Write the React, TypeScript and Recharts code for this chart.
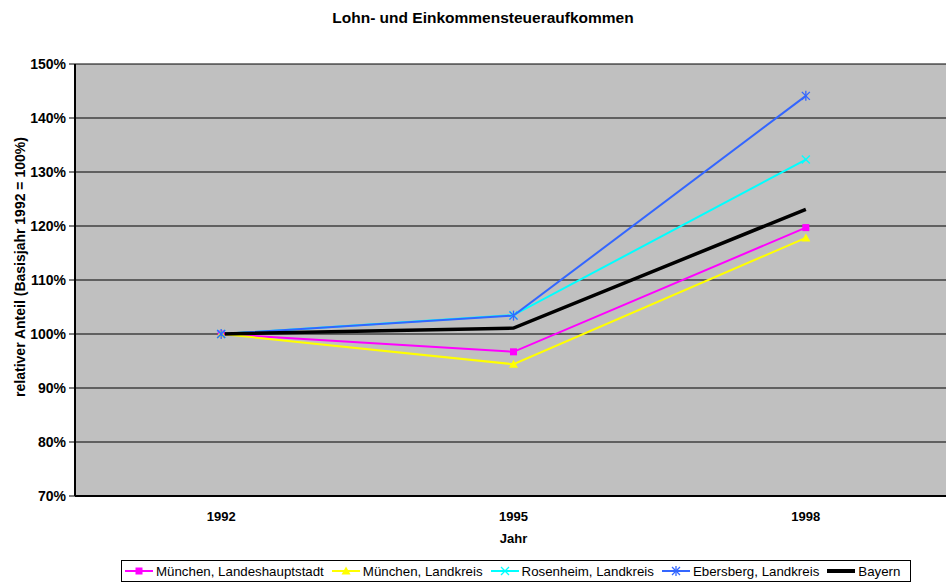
import React from "react";
import { LineChart, Line, XAxis, YAxis, CartesianGrid } from "recharts";

const years = ["1992", "1995", "1998"];
const muenchenStadt = [100, 96.7, 119.7];
const muenchenLand = [100, 94.4, 117.8];
const rosenheim = [100, 103.5, 132.3];
const ebersberg = [100, 103.4, 144.1];
const bayern = [100, 101.1, 123.1];
const yTicks = [70, 80, 90, 100, 110, 120, 130, 140, 150];
const boundaryTicks = [-0.5, 0.5, 1.5, 2.5];
const centerTicks = [0, 1, 2];

const FONT = "'Liberation Sans', Arial, sans-serif";

type Marker = "square" | "triangle" | "cross" | "star" | "none";

const series: { key: string; name: string; color: string; width: number; marker: Marker }[] = [
  { key: "ms", name: "München, Landeshauptstadt", color: "#FF00FF", width: 2, marker: "square" },
  { key: "ml", name: "München, Landkreis", color: "#FFFF00", width: 2, marker: "triangle" },
  { key: "ro", name: "Rosenheim, Landkreis", color: "#00FFFF", width: 2, marker: "cross" },
  { key: "eb", name: "Ebersberg, Landkreis", color: "#3366FF", width: 2, marker: "star" },
  { key: "by", name: "Bayern", color: "#000000", width: 3.5, marker: "none" },
];

const data = years.map((year, i) => ({
  x: i,
  year,
  ms: muenchenStadt[i],
  ml: muenchenLand[i],
  ro: rosenheim[i],
  eb: ebersberg[i],
  by: bayern[i],
}));

// draws one marker shape at (cx, cy)
const markerShape = (marker: Marker, color: string, cx: number, cy: number) => {
  if (marker === "square") {
    return <rect x={cx - 3.5} y={cy - 3.5} width={7} height={7} fill={color} />;
  }
  if (marker === "triangle") {
    return <polygon points={`${cx},${cy - 4.5} ${cx + 4.5},${cy + 3.5} ${cx - 4.5},${cy + 3.5}`} fill={color} />;
  }
  if (marker === "cross" || marker === "star") {
    return (
      <g stroke={color} strokeWidth={1.3}>
        <line x1={cx - 4} y1={cy - 4} x2={cx + 4} y2={cy + 4} />
        <line x1={cx - 4} y1={cy + 4} x2={cx + 4} y2={cy - 4} />
        {marker === "star" && <line x1={cx} y1={cy - 5} x2={cx} y2={cy + 5} />}
      </g>
    );
  }
  return null;
};

const makeDot = (marker: Marker, color: string) => (props: any) => {
  const { cx, cy, index } = props;
  if (cx == null || cy == null) return <g key={index} />;
  return <g key={index}>{markerShape(marker, color, cx, cy)}</g>;
};

const YLabel = (props: any) => {
  const { viewBox } = props;
  const cx = 20;
  const cy = viewBox.y + viewBox.height / 2 - 13;
  return (
    <text
      x={cx}
      y={cy}
      transform={`rotate(-90, ${cx}, ${cy})`}
      textAnchor="middle"
      dominantBaseline="central"
      fontFamily={FONT}
      fontWeight="bold"
      fontSize={14}
      fill="#000"
    >
      relativer Anteil (Basisjahr 1992 = 100%)
    </text>
  );
};

const XLabel = (props: any) => {
  const { viewBox } = props;
  return (
    <text
      x={viewBox.x + viewBox.width / 2}
      y={543}
      textAnchor="middle"
      fontFamily={FONT}
      fontWeight="bold"
      fontSize={13}
      fill="#000"
    >
      Jahr
    </text>
  );
};

const LegendBox = () => (
  <div
    style={{
      position: "absolute",
      left: 121,
      top: 560,
      width: 785,
      height: 20,
      border: "1px solid #000",
      background: "#fff",
      display: "flex",
      alignItems: "center",
      gap: 8,
      paddingLeft: 3,
      boxSizing: "content-box",
      fontFamily: FONT,
      fontSize: 13.3,
      color: "#000",
      whiteSpace: "nowrap",
    }}
  >
    {series.map((s) => (
      <div key={s.key} style={{ display: "flex", alignItems: "center" }}>
        <svg width={28} height={12} style={{ display: "block", marginRight: 3 }}>
          <line x1={0} y1={6} x2={28} y2={6} stroke={s.color} strokeWidth={s.key === "by" ? 4 : 2} />
          {markerShape(s.marker, s.color, 14, 6)}
        </svg>
        <span>{s.name}</span>
      </div>
    ))}
  </div>
);

export default function App() {
  return (
    <div
      style={{
        position: "absolute",
        left: 0,
        top: 0,
        width: 946,
        height: 586,
        overflow: "hidden",
        background: "#fff",
      }}
    >
      <div
        style={{
          position: "absolute",
          left: 0,
          top: 9,
          width: 966,
          textAlign: "center",
          fontFamily: FONT,
          fontWeight: "bold",
          fontSize: 15.5,
          color: "#000",
        }}
      >
        Lohn- und Einkommensteueraufkommen
      </div>
      <div style={{ position: "absolute", left: 0, top: 0 }}>
        <LineChart width={952} height={586} data={data} margin={{ top: 64, right: 0, bottom: 0, left: 0 }}>
          <CartesianGrid vertical={false} stroke="#000" strokeOpacity={1} fill="#C0C0C0" fillOpacity={1} />
          <XAxis
            xAxisId="b_labels"
            dataKey="x"
            type="number"
            domain={[-0.5, 2.5]}
            ticks={centerTicks}
            tickFormatter={(v: number) => years[v]}
            axisLine={false}
            tickLine={false}
            tickSize={0}
            tickMargin={6}
            height={80}
            tick={{ fill: "#000", fontFamily: FONT, fontWeight: "bold", fontSize: 13 }}
            label={<XLabel />}
          />
          <XAxis
            xAxisId="a_ticks"
            dataKey="x"
            type="number"
            domain={[-0.5, 2.5]}
            ticks={boundaryTicks}
            tick={false}
            tickSize={5}
            height={10}
            axisLine={{ stroke: "#000", strokeWidth: 2 }}
            tickLine={{ stroke: "#000", strokeWidth: 1 }}
          />
          <YAxis
            domain={[70, 150]}
            ticks={yTicks}
            width={75}
            tickFormatter={(v: number) => `${v}%`}
            tickSize={6}
            tickMargin={3}
            axisLine={{ stroke: "#000", strokeWidth: 2 }}
            tickLine={{ stroke: "#000" }}
            tick={{ fill: "#000", fontFamily: FONT, fontWeight: "bold", fontSize: 14 }}
            interval={0}
            label={<YLabel />}
          />
          {series.map((s) => (
            <Line
              key={s.key}
              xAxisId="a_ticks"
              type="linear"
              dataKey={s.key}
              name={s.name}
              stroke={s.color}
              strokeWidth={s.width}
              dot={s.marker === "none" ? false : makeDot(s.marker, s.color)}
              activeDot={false}
              isAnimationActive={false}
            />
          ))}
        </LineChart>
      </div>
      <LegendBox />
    </div>
  );
}
